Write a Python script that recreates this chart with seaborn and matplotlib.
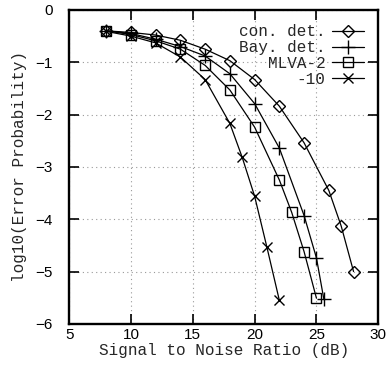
import matplotlib
matplotlib.use("Agg")
import matplotlib.pyplot as plt
import seaborn as sns
import pandas as pd

# ---- data ----
snr_con = [8, 10, 12, 14, 16, 18, 20, 22, 24, 26, 27, 28]
pe_con = [-0.40, -0.43, -0.48, -0.58, -0.75, -0.97, -1.33, -1.84, -2.54, -3.45, -4.13, -5.00]

snr_bay = [8, 10, 12, 14, 16, 18, 20, 22, 24, 25, 25.6]
pe_bay = [-0.40, -0.45, -0.56, -0.70, -0.88, -1.22, -1.79, -2.64, -3.93, -4.74, -5.53]

snr_mlva = [8, 10, 12, 14, 16, 18, 20, 22, 23, 24, 25]
pe_mlva = [-0.40, -0.47, -0.59, -0.75, -1.06, -1.53, -2.24, -3.25, -3.87, -4.62, -5.51]

snr_m10 = [8, 10, 12, 14, 16, 18, 19, 20, 21, 22]
pe_m10 = [-0.41, -0.50, -0.63, -0.90, -1.33, -2.17, -2.82, -3.56, -4.54, -5.55]

labels = ["con. det.", "Bay. det.", "MLVA-2", "-10"]
x_ticks = [5, 10, 15, 20, 25, 30]
y_ticks = [0, -1, -2, -3, -4, -5, -6]

sns.set_style("ticks")
plt.rcParams["font.family"] = ["Liberation Sans", "DejaVu Sans"]
plt.rcParams["axes.unicode_minus"] = True

fig = plt.figure(figsize=(3.86, 3.68), dpi=100)
ax = fig.add_axes([0.179, 0.120, 0.801, 0.853])

series = [
    (snr_con, pe_con, "D", 6.5),
    (snr_bay, pe_bay, "+", 10),
    (snr_mlva, pe_mlva, "s", 7.5),
    (snr_m10, pe_m10, "x", 7),
]
for (xs, ys, mk, ms), lab in zip(series, labels):
    df = pd.DataFrame({"snr": xs, "pe": ys})
    sns.lineplot(data=df, x="snr", y="pe", ax=ax, color="black", lw=0.9,
                 marker=mk, markersize=ms, markerfacecolor="none",
                 markeredgecolor="black", markeredgewidth=1.0, label=lab,
                 sort=False)

ax.set_xlim(5, 30)
ax.set_ylim(-6, 0)
ax.set_xticks(x_ticks)
ax.set_yticks(y_ticks)
ax.set_xticklabels([str(v) for v in x_ticks])
ax.set_yticklabels([str(v).replace("-", "\u2212") for v in y_ticks])
ax.grid(True, color="#999999", linestyle=(0, (1, 3)), linewidth=0.8)
ax.tick_params(direction="in", length=7, width=1.2, top=True, right=True,
               labelsize=11, pad=3, colors="black")
ax.tick_params(axis="y", pad=12)
for s in ax.spines.values():
    s.set_linewidth(1.7)
    s.set_color("black")

mono = "Liberation Mono"
ax.set_xlabel("Signal to Noise Ratio (dB)", family=mono, fontsize=11.5, labelpad=1)
ax.set_ylabel("log10(Error Probability)", family=mono, fontsize=11.5, labelpad=6)

leg = ax.legend(loc="upper right", markerfirst=False, frameon=False,
                prop={"family": mono, "size": 11.5}, handlelength=2.0,
                handletextpad=0.4, labelspacing=0.05, borderaxespad=0.6,
                borderpad=0.3)
for t in leg.get_texts():
    t.set_ha("right")
leg._legend_box.align = "right"

fig.savefig("out.png", dpi=100)
